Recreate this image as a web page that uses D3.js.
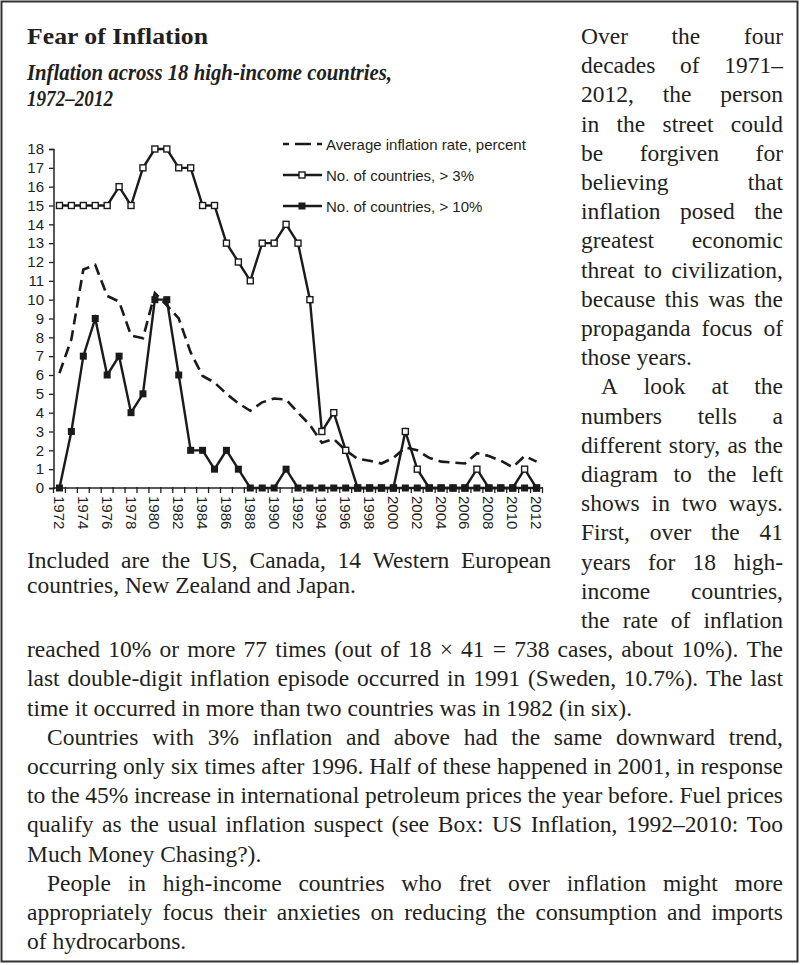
<!DOCTYPE html>
<html><head><meta charset="utf-8">
<script src="https://cdn.jsdelivr.net/npm/d3@7/dist/d3.min.js"></script>
<style>
body{margin:0;background:#fff}
svg{display:block}
</style>
</head><body>
<svg id="c" width="800" height="965"></svg>
<script>
// ---------------- DATA ----------------
const years = [1972,1973,1974,1975,1976,1977,1978,1979,1980,1981,1982,1983,1984,1985,1986,1987,1988,1989,1990,1991,1992,1993,1994,1995,1996,1997,1998,1999,2000,2001,2002,2003,2004,2005,2006,2007,2008,2009,2010,2011,2012];
const avgInflation = [6.1,7.9,11.6,11.85,10.2,9.9,8.1,7.95,10.35,9.7,9.0,7.2,5.95,5.6,5.0,4.5,4.1,4.55,4.75,4.7,4.0,3.35,2.4,2.6,2.0,1.55,1.45,1.3,1.6,2.15,2.0,1.6,1.4,1.35,1.3,1.85,1.7,1.45,1.1,1.7,1.4];
const countOver3 = [15,15,15,15,15,16,15,17,18,18,17,17,15,15,13,12,11,13,13,14,13,10,3,4,2,0,0,0,0,3,1,0,0,0,0,1,0,0,0,1,0];
const countOver10 = [0,3,7,9,6,7,4,5,10,10,6,2,2,1,2,1,0,0,0,1,0,0,0,0,0,0,0,0,0,0,0,0,0,0,0,0,0,0,0,0,0];
const yTickValues = [0,1,2,3,4,5,6,7,8,9,10,11,12,13,14,15,16,17,18];
const xTickLabels = [1972,1974,1976,1978,1980,1982,1984,1986,1988,1990,1992,1994,1996,1998,2000,2002,2004,2006,2008,2010,2012];
const seriesNames = ["Average inflation rate, percent","No. of countries, > 3%","No. of countries, > 10%"];

const titleText = "Fear of Inflation";
const subtitleLines = ["Inflation across 18 high-income countries,","1972\u20132012"];
const captionLines = ["Included are the US, Canada, 14 Western European","countries, New Zealand and Japan."];
// [text, justify, indent]
const columnLines = [
 ["Over the four",1,0],["decades of 1971\u2013",1,0],["2012, the person",1,0],["in the street could",1,0],
 ["be forgiven for",1,0],["believing that",1,0],["inflation posed the",1,0],["greatest economic",1,0],
 ["threat to civilization,",1,0],["because this was the",1,0],["propaganda focus of",1,0],["those years.",0,0],
 ["A look at the",1,1],["numbers tells a",1,0],["different story, as the",1,0],["diagram to the left",1,0],
 ["shows in two ways.",1,0],["First, over the 41",1,0],["years for 18 high-",1,0],["income countries,",1,0],
 ["the rate of inflation",1,0]
];
const fullLines = [
 ["reached 10% or more 77 times (out of 18 \u00d7 41 = 738 cases, about 10%). The",1,0],
 ["last double-digit inflation episode occurred in 1991 (Sweden, 10.7%). The last",1,0],
 ["time it occurred in more than two countries was in 1982 (in six).",0,0],
 ["Countries with 3% inflation and above had the same downward trend,",1,1],
 ["occurring only six times after 1996. Half of these happened in 2001, in response",1,0],
 ["to the 45% increase in international petroleum prices the year before. Fuel prices",1,0],
 ["qualify as the usual inflation suspect (see Box: US Inflation, 1992\u20132010: Too",1,0],
 ["Much Money Chasing?).",0,0],
 ["People in high-income countries who fret over inflation might more",1,1],
 ["appropriately focus their anxieties on reducing the consumption and imports",1,0],
 ["of hydrocarbons.",0,0]
];

// ---------------- DRAW ----------------
const SERIF = "'Liberation Serif','Times New Roman',Times,'DejaVu Serif',serif";
const SANS = "'Liberation Sans',Arial,Helvetica,sans-serif";
const TXT = "#231f20";
const BODY_SIZE = 23.5;

const svg = d3.select("#c");
svg.append("rect").attr("width",800).attr("height",965).attr("fill","#fff");
svg.append("rect").attr("x",1.5).attr("y",1.5).attr("width",796).attr("height",960)
  .attr("fill","none").attr("stroke","#333").attr("stroke-width",2);

function bodyText(g){
  return g.append("text").attr("font-family",SERIF).attr("font-size",BODY_SIZE).attr("fill",TXT);
}
function setLine(g, text, x0, x1, y, justify){
  const words = text.split(" ");
  const nodes = words.map(w => bodyText(g).attr("y",y).text(w));
  const widths = nodes.map(n => n.node().getComputedTextLength());
  const total = d3.sum(widths);
  const W = x1 - x0;
  const minGap = BODY_SIZE*0.2;
  let gap = BODY_SIZE*0.25, scale = 1;
  if (justify && words.length > 1) {
    gap = (W - total) / (words.length - 1);
    if (gap < minGap) { gap = minGap; scale = (W - gap*(words.length-1)) / total; }
  }
  let xx = x0;
  nodes.forEach((n,i) => {
    n.attr("x", xx);
    if (scale !== 1) n.attr("textLength", widths[i]*scale).attr("lengthAdjust","spacingAndGlyphs");
    xx += widths[i]*scale + gap;
  });
}

const tg = svg.append("g");
bodyText(tg).attr("x",27).attr("y",44).attr("font-size",24).attr("font-weight","bold")
  .attr("textLength",181).attr("lengthAdjust","spacingAndGlyphs").text(titleText);
const subW = [365, 86];
subtitleLines.forEach((s,i) => bodyText(tg).attr("x",27).attr("y",80+i*26).attr("font-size",22.5)
  .attr("font-weight","bold").attr("font-style","italic")
  .attr("textLength",subW[i]).attr("lengthAdjust","spacingAndGlyphs").text(s));

const lineBase = 44, lineStep = 29.2;
const colX0 = 581, colX1 = 783, fullX0 = 27, fullX1 = 783, indent = 20;
columnLines.forEach((l,i) => setLine(tg, l[0], colX0 + (l[2]?indent:0), colX1, lineBase + i*lineStep, l[1]));
fullLines.forEach((l,i) => setLine(tg, l[0], fullX0 + (l[2]?indent:0), fullX1, lineBase + (i+columnLines.length)*lineStep, l[1]));
captionLines.forEach((l,i) => setLine(tg, l, 27, 551, 568 + i*25, i===0));

// chart
const x = d3.scaleBand().domain(years).range([53.5, 542.5]);
const y = d3.scaleLinear().domain([0,18]).range([488,149]);
const cx = d => x(d) + x.bandwidth()/2;
const cg = svg.append("g");

// y axis
const yAxis = d3.axisLeft(y).tickValues(yTickValues).tickSize(4.5).tickPadding(5).tickFormat(d3.format("d"));
const ya = cg.append("g").attr("transform","translate(53.5,0)").call(yAxis);
ya.attr("font-family",SANS).attr("font-size",15);
ya.select(".domain").attr("stroke",TXT).attr("stroke-width",1.5);
ya.selectAll(".tick line").attr("stroke",TXT).attr("stroke-width",1.3);
ya.selectAll(".tick text").attr("fill",TXT);

// x axis: line plus ticks at band boundaries
const xa = cg.append("g");
xa.append("line").attr("x1",x.range()[0]).attr("x2",x.range()[1]).attr("y1",488).attr("y2",488)
  .attr("stroke",TXT).attr("stroke-width",1.5);
const bounds = years.map(d => x(d)).concat([x(years[years.length-1]) + x.step()]);
xa.selectAll("line.tk").data(bounds).join("line").attr("class","tk")
  .attr("x1",d=>d).attr("x2",d=>d).attr("y1",487).attr("y2",493).attr("stroke",TXT).attr("stroke-width",1.3);
xa.selectAll("text").data(xTickLabels).join("text")
  .attr("font-family",SANS).attr("font-size",15).attr("fill",TXT)
  .attr("transform", d => `translate(${cx(d)},496) rotate(90)`)
  .attr("dominant-baseline","central").attr("text-anchor","start").text(d => d);

// series
const line = d3.line().x((d,i) => cx(years[i])).y(d => y(d));
cg.append("path").datum(avgInflation).attr("d",line).attr("fill","none")
  .attr("stroke","#1a1a1a").attr("stroke-width",2.6).attr("stroke-dasharray","11,6");
cg.append("path").datum(countOver3).attr("d",line).attr("fill","none")
  .attr("stroke","#1a1a1a").attr("stroke-width",2.4);
cg.append("path").datum(countOver10).attr("d",line).attr("fill","none")
  .attr("stroke","#1a1a1a").attr("stroke-width",2.4);
cg.selectAll("rect.m3").data(countOver3).join("rect").attr("class","m3")
  .attr("x",(d,i)=>cx(years[i])-3).attr("y",d=>y(d)-3).attr("width",6).attr("height",6)
  .attr("fill","#fff").attr("stroke","#1a1a1a").attr("stroke-width",1.4);
cg.selectAll("rect.m10").data(countOver10).join("rect").attr("class","m10")
  .attr("x",(d,i)=>cx(years[i])-3.5).attr("y",d=>y(d)-3.5).attr("width",7).attr("height",7)
  .attr("fill","#1a1a1a");

// legend
const lg = cg.append("g");
const legY = [144,175,206];
seriesNames.forEach((s,i) => {
  const yy = legY[i];
  const ln = lg.append("line").attr("x1",283).attr("x2",322).attr("y1",yy).attr("y2",yy)
    .attr("stroke","#1a1a1a").attr("stroke-width",2.4);
  if (i===0) ln.attr("stroke-dasharray","6,6,16,6,6").attr("stroke-width",2.6);
  if (i===1) lg.append("rect").attr("x",299).attr("y",yy-3).attr("width",6).attr("height",6)
    .attr("fill","#fff").attr("stroke","#1a1a1a").attr("stroke-width",1.4);
  if (i===2) lg.append("rect").attr("x",298.5).attr("y",yy-3.5).attr("width",7).attr("height",7).attr("fill","#1a1a1a");
  lg.append("text").attr("font-family",SANS).attr("font-size",15).attr("fill",TXT)
    .attr("x",326).attr("y",yy).attr("dominant-baseline","central").text(s);
});
</script>
</body></html>
